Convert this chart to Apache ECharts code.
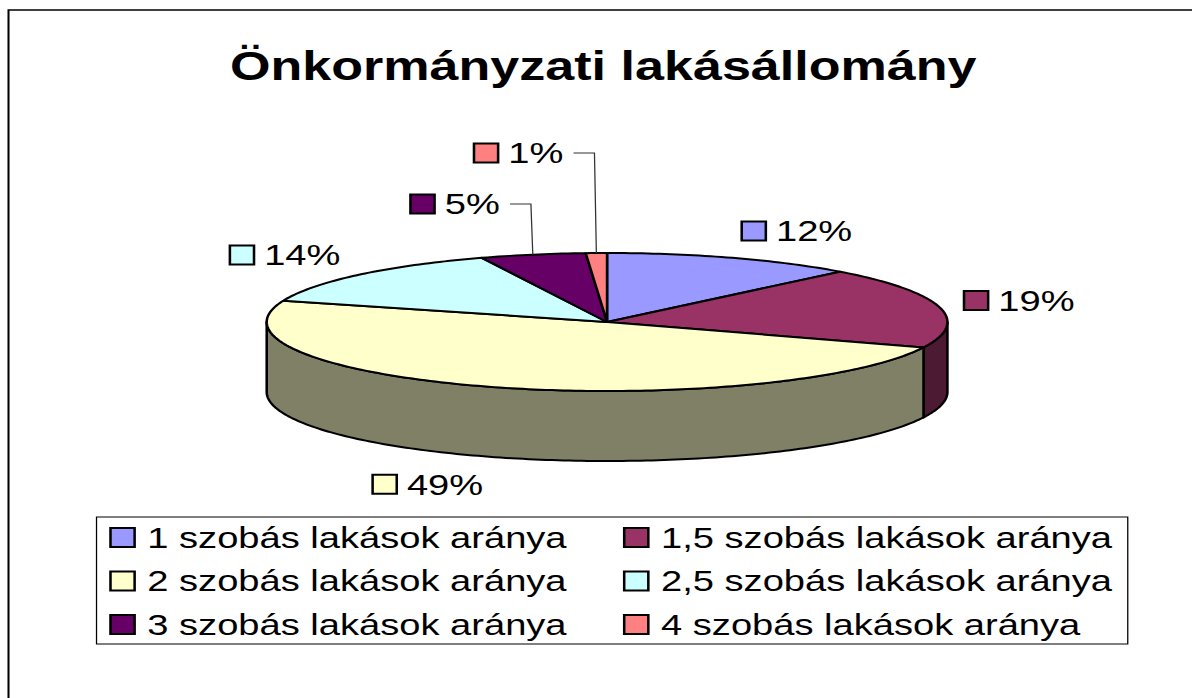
<!DOCTYPE html>
<html>
<head>
<meta charset="utf-8">
<script src="https://cdn.jsdelivr.net/npm/echarts@6/dist/echarts.min.js"></script>
<style>
  html, body { margin: 0; padding: 0; background: #fff; overflow: hidden; }
  #chartDom { height: 698px; transform-origin: 0 0; }
</style>
</head>
<body>
<div id="chartDom"></div>
<script>
const chartTitle = 'Önkormányzati lakásállomány';
const categories = [
  '1 szobás lakások aránya',
  '1,5 szobás lakások aránya',
  '2 szobás lakások aránya',
  '2,5 szobás lakások aránya',
  '3 szobás lakások aránya',
  '4 szobás lakások aránya'
];
const shares = [12, 19, 49, 14, 5, 1];
const topColors = ['#9999ff', '#993366', '#ffffcc', '#ccffff', '#660066', '#ff8080'];

// the source picture is stretched sideways, so draw narrow and scale the page back up
const STRETCH = 1.27;
const WIDTH = 1192 / STRETCH;
const FONT = 'Liberation Sans';

const pie = { cx: 478, cy: 322, rx: 268, ry: 69, depth: 70 };
const LRX = 288, LRY = 98, LABEL_STEP = 51, KEY = 19, KEY_GAP = 8;

const dom = document.getElementById('chartDom');
dom.style.width = WIDTH + 'px';
dom.style.transform = 'scaleX(' + STRETCH + ')';

const total = shares.reduce((s, v) => s + v, 0);
let acc = 0;
const slices = shares.map(v => {
  const a = acc / total * 360;
  acc += v;
  return { a, b: acc / total * 360 };
});

function rim(deg, dy) {
  const t = deg * Math.PI / 180;
  return [pie.cx + pie.rx * Math.sin(t), pie.cy - pie.ry * Math.cos(t) + (dy || 0)];
}
function arc(a, b, dy) {
  const n = Math.max(2, Math.ceil(b - a));
  const pts = [];
  for (let k = 0; k <= n; k++) pts.push(rim(a + (b - a) * k / n, dy));
  return pts;
}
function shade(hex, k) {
  const n = parseInt(hex.slice(1), 16);
  const c = [n >> 16, (n >> 8) & 255, n & 255].map(x => Math.round(x * k));
  return 'rgb(' + c.join(',') + ')';
}

const ctx = document.createElement('canvas').getContext('2d');
ctx.font = '30px "' + FONT + '"';

// data labels: outside the rim, the crowded ones at the top get pushed up with a leader
const labels = slices.map((s, i) => {
  const mid = (s.a + s.b) / 2;
  const t = mid * Math.PI / 180;
  const sn = Math.sin(t), cs = Math.cos(t);
  return {
    mid, sn, cs,
    text: Math.round(shares[i] / total * 100) + '%',
    ax: pie.cx + LRX * sn,
    ay: pie.cy - LRY * cs + (cs < 0 ? pie.depth : 0)
  };
});
let prevY = null;
labels.filter(l => l.sn < 0 && l.cs > 0).sort((p, q) => p.mid - q.mid).forEach(l => {
  if (prevY !== null && l.ay > prevY - LABEL_STEP) {
    l.ay = prevY - LABEL_STEP;
    l.moved = true;
  }
  prevY = l.ay;
});
labels.forEach(l => {
  const w = KEY + KEY_GAP + ctx.measureText(l.text).width;
  if (l.moved) {
    const [px, py] = rim(l.mid);
    const right = px - 26;
    l.x = right - w;
    l.leader = [[right + 8, l.ay], [px - 1.5, l.ay], [px, py]];
  } else {
    l.x = l.sn >= 0 ? l.ax : l.ax - w;
  }
});

function renderSlice(i) {
  return function () {
    const s = slices[i];
    const lb = labels[i];
    const children = [];
    const a = Math.max(s.a, 90), b = Math.min(s.b, 270);
    if (b > a) {
      const wall = arc(a, b).concat(arc(a, b, pie.depth).reverse());
      children.push({
        type: 'polygon', z2: 1, shape: { points: wall },
        style: { fill: shade(topColors[i], 0.5), stroke: '#000', lineWidth: 2, lineJoin: 'round' }
      });
    }
    children.push({
      type: 'polygon', z2: 10, shape: { points: [[pie.cx, pie.cy]].concat(arc(s.a, s.b)) },
      style: { fill: topColors[i], stroke: '#000', lineWidth: 2, lineJoin: 'round' }
    });
    children.push({
      type: 'rect', z2: 20, shape: { x: lb.x, y: lb.ay - KEY / 2, width: KEY, height: KEY },
      style: { fill: topColors[i], stroke: '#000', lineWidth: 2 }
    });
    children.push({
      type: 'text', z2: 20, x: lb.x + KEY + KEY_GAP, y: lb.ay,
      style: { text: lb.text, fontSize: 30, fontFamily: FONT, fill: '#000', align: 'left', verticalAlign: 'middle' }
    });
    if (lb.leader) {
      children.push({
        type: 'polyline', z2: 20, shape: { points: lb.leader },
        style: { stroke: '#333', lineWidth: 1, fill: null }
      });
    }
    return { type: 'group', children };
  };
}

// legend is two columns filled row by row
const legendNames = [];
for (let col = 0; col < 2; col++) {
  for (let row = 0; row < 3; row++) legendNames.push(categories[row * 2 + col]);
}

const option = {
  animation: false,
  backgroundColor: '#fff',
  title: {
    text: chartTitle,
    left: 470,
    top: 61,
    textAlign: 'center',
    textVerticalAlign: 'middle',
    textStyle: { fontFamily: FONT, fontSize: 41, fontWeight: 'bold', color: '#000' }
  },
  legend: {
    orient: 'vertical',
    left: 76,
    top: 517,
    height: 125,
    icon: 'rect',
    itemWidth: 19,
    itemHeight: 19,
    itemGap: 9.5,
    padding: [3.5, 2.5, 2.5, 10],
    borderColor: '#000',
    borderWidth: 1,
    selectedMode: false,
    itemStyle: { borderColor: '#000', borderWidth: 2 },
    textStyle: { fontFamily: FONT, fontSize: 30, color: '#000', lineHeight: 34, width: 365, padding: [0, 0, 0, 5] },
    data: legendNames
  },
  graphic: [{
    type: 'rect',
    shape: { x: 6.7, y: 10, width: 2000, height: 2000 },
    style: { fill: 'none', stroke: '#000', lineWidth: 1.6 }
  }],
  series: categories.map((name, i) => ({
    type: 'custom',
    name,
    coordinateSystem: 'none',
    itemStyle: { color: topColors[i], borderColor: '#000', borderWidth: 2 },
    data: [shares[i]],
    renderItem: renderSlice(i)
  }))
};

const chart = echarts.init(dom, null, { renderer: 'svg' });
chart.setOption(option);
</script>
</body>
</html>
